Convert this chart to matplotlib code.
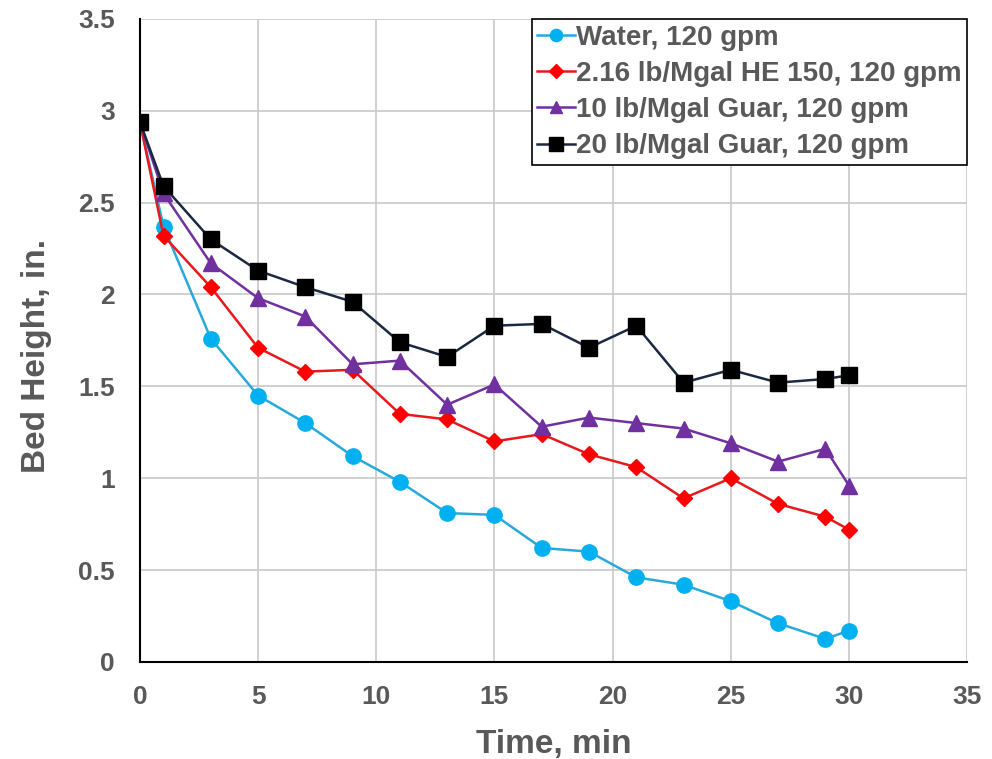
import matplotlib
matplotlib.use('Agg')
import matplotlib.pyplot as plt

# time, min
t = [0, 1, 3, 5, 7, 9, 11, 13, 15, 17, 19, 21, 23, 25, 27, 29, 30]

water = [2.94, 2.37, 1.76, 1.45, 1.30, 1.12, 0.98, 0.81, 0.80, 0.62, 0.60, 0.46, 0.42, 0.33, 0.21, 0.125, 0.17]
he150 = [2.94, 2.32, 2.04, 1.71, 1.58, 1.59, 1.35, 1.32, 1.20, 1.24, 1.13, 1.06, 0.89, 1.00, 0.86, 0.79, 0.72]
guar10 = [2.94, 2.55, 2.17, 1.98, 1.88, 1.62, 1.64, 1.40, 1.51, 1.28, 1.33, 1.30, 1.27, 1.19, 1.09, 1.16, 0.96]
guar20 = [2.94, 2.59, 2.30, 2.13, 2.04, 1.96, 1.74, 1.66, 1.83, 1.84, 1.71, 1.83, 1.52, 1.59, 1.52, 1.54, 1.56]

labels = ['Water, 120 gpm', '2.16 lb/Mgal HE 150, 120 gpm',
          '10 lb/Mgal Guar, 120 gpm', '20 lb/Mgal Guar, 120 gpm']

plt.rcParams['font.family'] = ['Liberation Sans', 'DejaVu Sans']
grey = '#595959'

fig = plt.figure(figsize=(9.92, 7.59), dpi=100)
ax = fig.add_axes([0.141, 0.128, 0.834, 0.847])

ax.plot(t, water, color='#27A9DC', lw=1.8, marker='o', ms=11, mfc='#00B0F0', mec='#00B0F0', label=labels[0])
ax.plot(t, he150, color='#E8191C', lw=1.8, marker='D', ms=8.5, mfc='#FF0000', mec='#FF0000', label=labels[1])
ax.plot(t, guar10, color='#7030A0', lw=1.8, marker='^', ms=11, mfc='#7030A0', mec='#7030A0', label=labels[2])
ax.plot(t, guar20, color='#1C2841', lw=1.8, marker='s', ms=12, mfc='black', mec='black', label=labels[3])

ax.set_xlim(0, 35)
ax.set_ylim(0, 3.5)
ax.set_xticks(range(0, 36, 5))
ax.set_yticks([0, 0.5, 1, 1.5, 2, 2.5, 3, 3.5])
ax.set_yticklabels(['0', '0.5', '1', '1.5', '2', '2.5', '3', '3.5'])
ax.grid(True, color='#C8C8C8', lw=1.2)
ax.set_axisbelow(True)

for s in ['top', 'right']:
    ax.spines[s].set_visible(False)
for s in ['left', 'bottom']:
    ax.spines[s].set_color('black')
    ax.spines[s].set_linewidth(1.5)

ax.tick_params(length=0, labelsize=19, labelcolor=grey)
ax.tick_params(axis='x', pad=17)
ax.tick_params(axis='y', pad=18)
for lab in ax.get_xticklabels() + ax.get_yticklabels():
    lab.set_fontweight('bold')

ax.set_xlabel('Time, min', fontsize=24, fontweight='bold', color=grey, labelpad=14)
ax.set_ylabel('Bed Height, in.', fontsize=24, fontweight='bold', color=grey)
ax.yaxis.set_label_coords(-0.106, 0.476)

leg = ax.legend(loc='upper right', bbox_to_anchor=(1.0, 1.0), prop={'weight': 'bold', 'size': 20},
                frameon=True, fancybox=False, edgecolor='black', framealpha=1,
                handlelength=1.35, handletextpad=0.05, borderpad=0.2, labelspacing=0.37,
                markerscale=0.8, borderaxespad=0)
leg.get_frame().set_linewidth(1.2)
for txt in leg.get_texts():
    txt.set_color(grey)

fig.savefig('out.png', dpi=100)
